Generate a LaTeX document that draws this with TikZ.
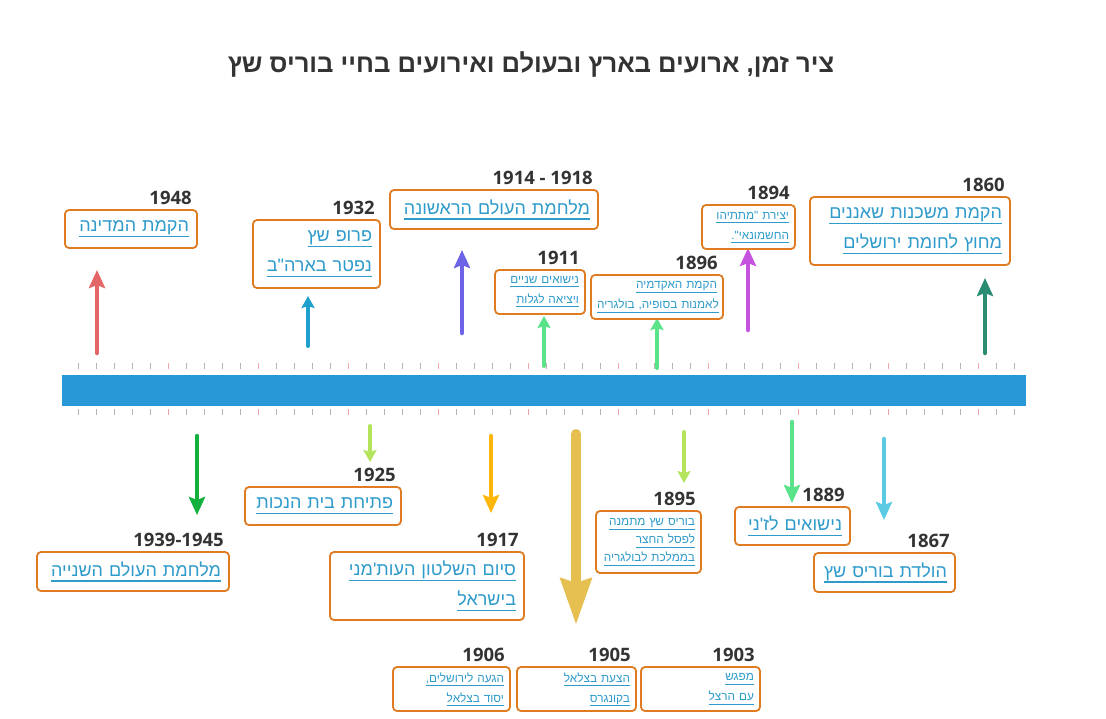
\documentclass[tikz,border=0pt]{standalone}
\usepackage{fontspec}
\usepackage{tikz}
\usepackage{xcolor}
\usetikzlibrary{arrows.meta}
\TeXXeTstate=1
\newfontfamily\hebfont[Script=Hebrew]{Liberation Sans}
\newfontfamily\yearfont{Open Sans}
\definecolor{barblue}{HTML}{2899D6}
\definecolor{boxorange}{HTML}{E07B22}
\definecolor{textblue}{HTML}{2E9BCB}
\definecolor{darkgray}{HTML}{333333}
\definecolor{tickgray}{HTML}{B4B4B4}
\definecolor{tickred}{HTML}{F2A4AC}
\newsavebox\linebox
% one underlined right-to-left line
\newcommand\ul[1]{\leavevmode\sbox\linebox{\beginR#1\endR}\rlap{\rule[-0.3em]{\wd\linebox}{0.07em}}\usebox\linebox}

\begin{document}
\begin{tikzpicture}[x=1pt, y=-1pt,
    evbox/.style={draw=boxorange, line width=1.8pt, rounded corners=4pt, fill=white,
        text=textblue, align=right, inner xsep=8pt, inner ysep=2pt,
        font=\hebfont\fontsize{18}{30}\selectfont},
    smallbox/.style={evbox, inner xsep=6pt, font=\hebfont\fontsize{11.8}{20}\selectfont},
    yearlbl/.style={font=\yearfont\bfseries\fontsize{18.5}{20}\selectfont, text=darkgray,
        inner sep=0pt, anchor=base east},
    evarrow/.style={line width=4.5pt, line cap=round, -{Stealth[length=18pt,width=16pt,inset=3pt]}},
    shortarrow/.style={line width=4pt, line cap=round, -{Stealth[length=12pt,width=13pt,inset=2pt]}},
    tick/.style={tickgray, line width=1pt}]
    \useasboundingbox[fill=white] (0,0) rectangle (1106,718);
    \node[text=darkgray, font=\hebfont\bfseries\fontsize{25.6}{30}\selectfont] (title) at (531,64)
        {\beginR ציר זמן, ארועים בארץ ובעולם ואירועים בחיי בוריס שץ\endR};

    % time bar and ticks
    \fill[barblue] (62,375) rectangle (1026,406);
    \foreach \k in {0,...,52} {
        \draw[tick] (78+18*\k,363) -- ++(0,6);
        \draw[tick] (78+18*\k,409) -- ++(0,6);
    }
    \foreach \k in {1,...,10} {
        \draw[tick, tickred] (78+90*\k,363) -- ++(0,6);
        \draw[tick, tickred] (78+90*\k,409) -- ++(0,6);
    }

    % arrows above the bar
    \draw[evarrow, color={rgb,255:red,228;green,102;blue,102}] (97,353) -- (97,270);
    \draw[shortarrow, color={rgb,255:red,31;green,160;blue,204}] (308,346) -- (308,296);
    \draw[evarrow, color={rgb,255:red,108;green,99;blue,230}] (462,333) -- (462,250);
    \draw[shortarrow, color={rgb,255:red,91;green,227;blue,138}] (544,366) -- (544,316);
    \draw[shortarrow, color={rgb,255:red,91;green,227;blue,138}] (657,368) -- (657,318);
    \draw[evarrow, color={rgb,255:red,198;green,83;blue,224}] (748,330) -- (748,248);
    \draw[evarrow, color={rgb,255:red,42;green,140;blue,114}] (985,353) -- (985,278);

    % arrows below the bar
    \draw[evarrow, color={rgb,255:red,18;green,176;blue,60}] (197,436) -- (197,515);
    \draw[shortarrow, color={rgb,255:red,180;green,227;blue,92}] (370,426) -- (370,462);
    \draw[evarrow, color={rgb,255:red,255;green,182;blue,10}] (491,436) -- (491,513);
    \draw[line width=10pt, line cap=round, color={rgb,255:red,229;green,192;blue,80},
        -{Stealth[length=46pt,width=30pt,inset=4pt]}] (576,434) -- (576,625);
    \draw[shortarrow, color={rgb,255:red,180;green,227;blue,92}] (684,432) -- (684,483);
    \draw[evarrow, color={rgb,255:red,91;green,227;blue,138}] (792,422) -- (792,503);
    \draw[evarrow, color={rgb,255:red,91;green,203;blue,227}] (884,439) -- (884,520);

    % events above
    \node[evbox, text width=116pt, minimum height=38pt] (b1948) at (131,229) {\ul{הקמת המדינה}};
    \node[evbox, text width=111pt, minimum height=68pt] (b1932) at (316.5,254) {\ul{פרופ שץ}\\\ul{נפטר בארה"ב}};
    \node[evbox, text width=192pt, minimum height=39pt] (b1914) at (494,209.5) {\ul{מלחמת העולם הראשונה}};
    \node[smallbox, text width=78pt, minimum height=44pt] (b1911) at (540,292) {\ul{נישואים שניים}\\\ul{ויציאה לגלות}};
    \node[smallbox, text width=120pt, minimum height=44pt] (b1896) at (657,297) {\ul{הקמת האקדמיה}\\\ul{לאמנות בסופיה, בולגריה}};
    \node[smallbox, text width=81pt, minimum height=44pt] (b1894) at (748.5,227) {\ul{יצירת "מתתיהו}\\\ul{החשמונאי".}};
    \node[evbox, text width=184pt, minimum height=68pt] (b1860) at (910,231) {\ul{הקמת משכנות שאננים}\\\ul{מחוץ לחומת ירושלים}};

    % events below
    \node[evbox, text width=140pt, minimum height=38pt] (b1925) at (323,506) {\ul{פתיחת בית הנכות}};
    \node[evbox, text width=176pt, minimum height=39pt] (b1939) at (133,571.5) {\ul{מלחמת העולם השנייה}};
    \node[evbox, text width=178pt, minimum height=68pt] (b1917) at (427,586) {\ul{סיום השלטון העות'מני}\\\ul{בישראל}};
    \node[smallbox, text width=93pt, minimum height=62pt] (b1895) at (648.5,542) {\ul{בוריס שץ מתמנה}\\[-2pt]\ul{לפסל החצר}\\[-2pt]\ul{בממלכת לבולגריה}};
    \node[evbox, text width=99pt, minimum height=38pt] (b1889) at (792.5,526) {\ul{נישואים לז'ני}};
    \node[evbox, text width=125pt, minimum height=39pt] (b1867) at (884.5,572.5) {\ul{הולדת בוריס שץ}};
    \node[smallbox, text width=105pt, minimum height=44pt] (b1906) at (451.5,689) {\ul{הגעה לירושלים,}\\\ul{יסוד בצלאל}};
    \node[smallbox, text width=107pt, minimum height=44pt] (b1905) at (576.5,689) {\ul{הצעת בצלאל}\\\ul{בקונגרס}};
    \node[smallbox, text width=107pt, minimum height=44pt] (b1903) at (700.5,689) {\ul{מפגש}\\\ul{עם הרצל}};

    % years
    \node[yearlbl] (y1948) at ([xshift=-6pt,yshift=5pt]b1948.north east) {1948};
    \node[yearlbl] (y1932) at ([xshift=-6pt,yshift=5pt]b1932.north east) {1932};
    \node[yearlbl] (y1914) at ([xshift=-6pt,yshift=5pt]b1914.north east) {1914 - 1918};
    \node[yearlbl] (y1911) at ([xshift=-6pt,yshift=5pt]b1911.north east) {1911};
    \node[yearlbl] (y1896) at ([xshift=-6pt,yshift=5pt]b1896.north east) {1896};
    \node[yearlbl] (y1894) at ([xshift=-6pt,yshift=5pt]b1894.north east) {1894};
    \node[yearlbl] (y1860) at ([xshift=-6pt,yshift=5pt]b1860.north east) {1860};
    \node[yearlbl] (y1925) at ([xshift=-6pt,yshift=5pt]b1925.north east) {1925};
    \node[yearlbl] (y1939) at ([xshift=-6pt,yshift=5pt]b1939.north east) {1939-1945};
    \node[yearlbl] (y1917) at ([xshift=-6pt,yshift=5pt]b1917.north east) {1917};
    \node[yearlbl] (y1895) at ([xshift=-6pt,yshift=5pt]b1895.north east) {1895};
    \node[yearlbl] (y1889) at ([xshift=-6pt,yshift=5pt]b1889.north east) {1889};
    \node[yearlbl] (y1867) at ([xshift=-6pt,yshift=5pt]b1867.north east) {1867};
    \node[yearlbl] (y1906) at ([xshift=-6pt,yshift=5pt]b1906.north east) {1906};
    \node[yearlbl] (y1905) at ([xshift=-6pt,yshift=5pt]b1905.north east) {1905};
    \node[yearlbl] (y1903) at ([xshift=-6pt,yshift=5pt]b1903.north east) {1903};
\end{tikzpicture}
\end{document}
